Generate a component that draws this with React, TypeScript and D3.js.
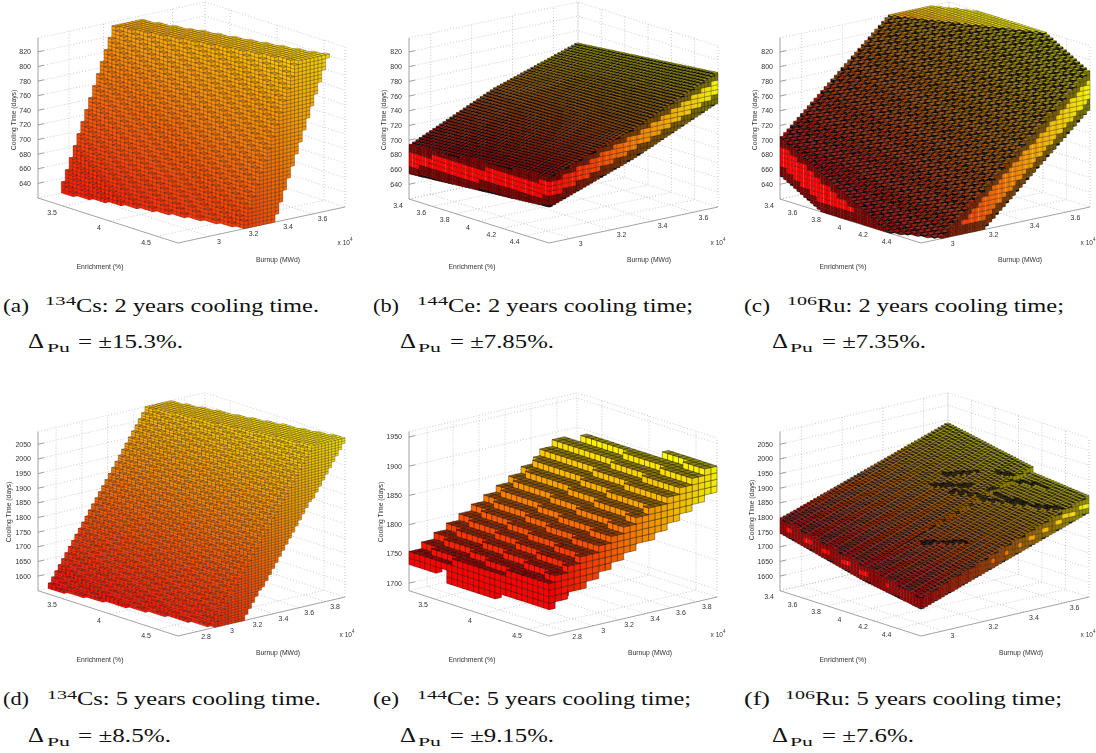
import React, { useEffect, useRef } from 'react';
import * as d3 from 'd3';

const width = 1096;
const height = 753;

// tick labels
const enrichTicksWide = [3.5, 4, 4.5];
const enrichTicksNarrow = [3.4, 3.6, 3.8, 4, 4.2, 4.4];
const burnupTicksA = [3, 3.2, 3.4, 3.6];
const burnupTicksB = [3, 3.2, 3.4, 3.6];
const burnupTicksD = [2.8, 3, 3.2, 3.4, 3.6, 3.8];
const coolTicks2y = [640, 660, 680, 700, 720, 740, 760, 780, 800, 820];
const coolTicks5y = [1600, 1650, 1700, 1750, 1800, 1850, 1900, 1950, 2000, 2050];
const coolTicksCe5y = [1700, 1750, 1800, 1850, 1900, 1950];

// read-off surfaces of each solid: one row per enrichment, one column per burnup knot.
// cooling times in days, extended to the box edge and clipped to the box when drawn.
// the individual voxels are not read one by one, they are filled in between these surfaces
const csTwoEnrich = [3.234, 4.723];
const csTwoBurnup = [[2.82, 3.788], [2.82, 3.788]];
const csTwoTop = [[538, 1195], [360, 1017]];
const csTwoBottom = [[426, 1083], [240, 897]];

const ceTwoEnrich = [3.4, 4.6];
const ceTwoBurnup = [[2.894, 3.308, 3.72], [2.894, 3.308, 3.72]];
const ceTwoTop = [[693, 746, 784], [710, 751, 804]];
const ceTwoBottom = [[653, 705, 744], [668, 710, 762]];

const ruTwoEnrich = [3.4, 4.6];
const ruTwoBurnup = [[2.894, 3.72], [2.894, 3.72]];
const ruTwoTop = [[704, 916], [595, 806]];
const ruTwoBottom = [[650, 861], [540, 752]];

const csFiveEnrich = [3.234, 4.723];
const csFiveBurnup = [[2.66, 3.955], [2.66, 3.955]];
const csFiveTop = [[1507, 2412], [1360, 2265]];
const csFiveBottom = [[1371, 2276], [1205, 2080]];

const ceFiveEnrich = [3.234, 3.606, 3.621, 4.142, 4.157, 4.723];
const ceFiveBurnup = [
  [2.66, 3.877],
  [2.66, 3.89],
  [2.66, 3.89],
  [2.66, 3.93],
  [2.66, 3.93],
  [2.66, 3.955],
];
const ceFiveTop = [
  [1748, 1894],
  [1755, 1896],
  [1755, 1896],
  [1766, 1908],
  [1766, 1908],
  [1777, 1915],
];
const ceFiveBottom = [
  [1730, 1874],
  [1736, 1876],
  [1720, 1860],
  [1722, 1868],
  [1727, 1871],
  [1731, 1869],
];

const ruFiveEnrich = [3.4, 4.12, 4.13, 4.6];
const ruFiveBurnup = [[2.894, 3.72], [2.894, 3.72], [2.894, 3.72], [2.894, 3.72]];
const ruFiveTop = [[1798, 1993], [1727, 1936], [1727, 1917], [1680, 1898]];
const ruFiveBottom = [[1744, 1943], [1672, 1886], [1672, 1867], [1639, 1837]];
// dark creases on the top of (f): enrichment, burnup at each end
const ruFiveCreases = [
  [4.19, 3.13, 4.38, 3.23],
  [3.82, 3.40, 3.99, 3.49],
  [3.80, 3.48, 3.91, 3.56],
  [4.01, 3.61, 4.33, 3.67],
  [3.95, 3.42, 4.58, 3.60],
  [4.10, 3.52, 4.50, 3.56],
];

const panels = [
  {
    L: [38, 198], F: [178, 243], R: [345, 207], zTop: 38,
    eDomain: [3.234, 4.723], bDomain: [2.82, 3.788], zDomain: [620, 839], clip: [620, 836],
    eTicks: enrichTicksWide, bTicks: burnupTicksA, zTicks: coolTicks2y,
    enrich: csTwoEnrich, burnup: csTwoBurnup, top: csTwoTop, bottom: csTwoBottom,
    ne: 35, nb: 43, dz: 5.093, smooth: false, merge: false, topShade: 0.85, edge: [0, 0, 1], dash: 1, tone: [0.6, 0.35], stroke: [0.35, 0.7],
    coolX: 13, coolY: 120, enrichX: 100, enrichY: 266, burnX: 278, burnY: 259, expX: 345, expY: 242,
  },
  {
    L: [409, 199], F: [549, 243], R: [718, 207], zTop: 38,
    eDomain: [3.4, 4.6], bDomain: [2.894, 3.72], zDomain: [620, 839], clip: [620, 839],
    eTicks: enrichTicksNarrow, bTicks: burnupTicksB, zTicks: coolTicks2y,
    enrich: ceTwoEnrich, burnup: ceTwoBurnup, top: ceTwoTop, bottom: ceTwoBottom,
    ne: 42, nb: 50, dz: 6.4, smooth: true, merge: true, topShade: 0.66, edge: [1, 1.5, 0.5], dash: 0.2, tone: [1, 0], stroke: [0.33, 0.85],
    coolX: 383, coolY: 120, enrichX: 472, enrichY: 266, burnX: 649, burnY: 259, expX: 718, expY: 242,
  },
  {
    L: [780, 199], F: [921, 243], R: [1090, 207], zTop: 38,
    eDomain: [3.4, 4.6], bDomain: [2.894, 3.72], zDomain: [620, 839], clip: [620, 839],
    eTicks: enrichTicksNarrow, bTicks: burnupTicksB, zTicks: coolTicks2y,
    enrich: ruTwoEnrich, burnup: ruTwoBurnup, top: ruTwoTop, bottom: ruTwoBottom,
    ne: 42, nb: 50, dz: 6.4, smooth: true, merge: true, topShade: 0.76, edge: [1.4, 1.6, 0.5], dash: 0.2, tone: [1, 0], stroke: [0.3, 0.85],
    coolX: 754, coolY: 120, enrichX: 843, enrichY: 266, burnX: 1020, burnY: 259, expX: 1088, expY: 242,
  },
  {
    L: [38, 590.7], F: [178, 636], R: [345, 597], zTop: 431.7,
    eDomain: [3.234, 4.723], bDomain: [2.66, 3.955], zDomain: [1550, 2093], clip: [1550, 2090],
    eTicks: enrichTicksWide, bTicks: burnupTicksD, zTicks: coolTicks5y,
    enrich: csFiveEnrich, burnup: csFiveBurnup, top: csFiveTop, bottom: csFiveBottom,
    ne: 35, nb: 50, dz: 9.05, smooth: false, merge: false, topShade: 0.85, edge: [0, 0, 1], dash: 1, tone: [0.6, 0.35], stroke: [0.35, 0.7],
    coolX: 8, coolY: 512, enrichX: 100, enrichY: 659, burnX: 278, burnY: 652, expX: 347, expY: 634,
  },
  {
    L: [409, 590.7], F: [549, 636], R: [717, 597], zTop: 431.7,
    eDomain: [3.234, 4.723], bDomain: [2.66, 3.955], zDomain: [1687, 1959], clip: [1687, 1959],
    eTicks: enrichTicksWide, bTicks: burnupTicksD, zTicks: coolTicksCe5y,
    enrich: ceFiveEnrich, burnup: ceFiveBurnup, top: ceFiveTop, bottom: ceFiveBottom,
    ne: 26, nb: 27, dz: 11.2, smooth: false, merge: false, topShade: 0.55, edge: [0, 0, 1], dash: 1, tone: [1, 0], stroke: [0.45, 0.8],
    coolX: 380, coolY: 512, enrichX: 472, enrichY: 659, burnX: 650, burnY: 652, expX: 718, expY: 634,
  },
  {
    L: [780, 590.7], F: [921, 636], R: [1089, 597], zTop: 431.7,
    eDomain: [3.4, 4.6], bDomain: [2.894, 3.72], zDomain: [1550, 2093], clip: [1550, 2093],
    eTicks: enrichTicksNarrow, bTicks: burnupTicksB, zTicks: coolTicks5y,
    enrich: ruFiveEnrich, burnup: ruFiveBurnup, top: ruFiveTop, bottom: ruFiveBottom, creases: ruFiveCreases,
    ne: 48, nb: 50, dz: 16, smooth: true, merge: true, topShade: 0.68, edge: [1, 1, 0.62], dash: 0.3, tone: [1, 0], stroke: [0.3, 0.8],
    coolX: 751, coolY: 510, enrichX: 843, enrichY: 659, burnX: 1021, burnY: 652, expX: 1088, expY: 634,
  },
];

// caption text, then x positions read from the page
const captions = [
  { tag: '(a)', iso: '134', rest: 'Cs: 2 years cooling time.', pct: '= ±15.3%.', x: [3, 45, 76, 319], x2: [28, 47, 78, 183], y: [311.5, 348] },
  { tag: '(b)', iso: '144', rest: 'Ce: 2 years cooling time;', pct: '= ±7.85%.', x: [373, 417, 448, 693], x2: [400, 418, 450, 554], y: [311.5, 348] },
  { tag: '(c)', iso: '106', rest: 'Ru: 2 years cooling time;', pct: '= ±7.35%.', x: [744, 787, 817, 1064], x2: [772, 790, 822, 926], y: [311.5, 348] },
  { tag: '(d)', iso: '134', rest: 'Cs: 5 years cooling time.', pct: '= ±8.5%.', x: [3, 47, 77, 321], x2: [28, 47, 78, 171], y: [705, 741.5] },
  { tag: '(e)', iso: '144', rest: 'Ce: 5 years cooling time;', pct: '= ±9.15%.', x: [373, 417, 447, 691], x2: [400, 418, 450, 554], y: [705, 741.5] },
  { tag: '(f)', iso: '106', rest: 'Ru: 5 years cooling time;', pct: '= ±7.6%.', x: [744, 785, 815, 1062], x2: [772, 790, 822, 914], y: [705, 741.5] },
];

const autumn = (t: number, shade: number) => {
  const u = Math.max(0, Math.min(1, t));
  return d3.rgb(255 * shade, 255 * u * shade, 0).formatHex();
};

function buildFaces(p: any) {
  const { L, F, R, zTop } = p;
  const xE = d3.scaleLinear().domain(p.eDomain).range([0, F[0] - L[0]]);
  const yE = d3.scaleLinear().domain(p.eDomain).range([0, F[1] - L[1]]);
  const xB = d3.scaleLinear().domain(p.bDomain).range([0, R[0] - F[0]]);
  const yB = d3.scaleLinear().domain(p.bDomain).range([0, R[1] - F[1]]);
  const yZ = d3.scaleLinear().domain(p.zDomain).range([0, zTop - L[1]]);
  const at = (e: number, b: number, z: number) => [
    L[0] + xE(e) + xB(b),
    L[1] + yE(e) + yB(b) + yZ(z),
  ];
  const pt = (q: number[]) => q[0].toFixed(1) + ',' + q[1].toFixed(1);
  const quad = (pts: number[][]) => 'M' + pts.map(pt).join('L') + 'Z';
  const seg = (a: number[], b: number[]) => 'M' + pt(a) + 'L' + pt(b);

  const eStep = (p.eDomain[1] - p.eDomain[0]) / p.ne;
  const bStep = (p.bDomain[1] - p.bDomain[0]) / p.nb;
  const snap = (z: number) =>
    p.smooth ? z : p.zDomain[0] + Math.round((z - p.zDomain[0]) / p.dz) * p.dz;
  const rowZ = (r: number) => p.zDomain[0] + r * p.dz;
  const rowOf = (z: number) => (z - p.zDomain[0]) / p.dz;

  // is this cell on one of the creases
  const onCrease = (e: number, b: number) =>
    (p.creases || []).some((s: number[]) => {
      const ex = (s[2] - s[0]) / eStep;
      const bx = (s[3] - s[1]) / bStep;
      const px = (e - s[0]) / eStep;
      const py = (b - s[1]) / bStep;
      const u = Math.max(0, Math.min(1, (px * ex + py * bx) / (ex * ex + bx * bx)));
      return Math.hypot(px - u * ex, py - u * bx) < 0.6;
    });

  // column bounds for every grid cell, from the read-off tables
  const cols: any[][] = [];
  const eNode = d3.scaleLinear().domain(p.enrich).range(p.enrich.map((_: any, i: number) => i)).clamp(true);
  for (let j = 0; j < p.ne; j++) {
    const e = p.eDomain[0] + (j + 0.5) * eStep;
    const k = eNode(e);
    const i0 = Math.min(Math.floor(k), p.enrich.length - 2);
    const f = k - i0;
    const mix = (t: number[][]) => t[i0].map((v, q) => v + (t[i0 + 1][q] - v) * f);
    const knots = mix(p.burnup);
    const topAt = d3.scaleLinear().domain(knots).range(mix(p.top));
    const botAt = d3.scaleLinear().domain(knots).range(mix(p.bottom));
    const col: any[] = [];
    for (let i = 0; i < p.nb; i++) {
      const b = p.bDomain[0] + (i + 0.5) * bStep;
      if (b < knots[0] || b > knots[knots.length - 1]) {
        col.push(null);
        continue;
      }
      const topRaw = topAt(b);
      const hi = snap(Math.min(topRaw, p.clip[1]));
      const lo = snap(Math.max(botAt(b), p.clip[0]));
      const crease = onCrease(e, b);
      col.push(hi > lo ? { lo, hi: crease ? hi + p.dz * 0.3 : hi, flat: topRaw >= p.clip[1], crease } : null);
    }
    cols.push(col);
  }

  const tb = d3.scaleLinear().domain(d3.extent(p.burnup.flat()) as number[]).range([0, 1]);
  const tz = d3.scaleLinear().domain(p.clip).range([0, 1]);
  const tone = (b: number, z: number) => p.tone[0] * tb(b) + p.tone[1] * tz(z);
  const faces: { d: string; fill: string; bare?: boolean; wide?: boolean }[] = [];

  // parts of the slice [z0, z1] that the neighbouring column leaves open
  const open = (z0: number, z1: number, n: any) => {
    if (!n) return [[z0, z1]];
    const parts: number[][] = [];
    if (z0 < n.lo) parts.push([z0, Math.min(z1, n.lo)]);
    if (z1 > n.hi) parts.push([Math.max(z0, n.hi), z1]);
    return parts;
  };

  // a side face; lit faces of the plates are joined in pairs, as in the picture
  const addSide = (a: number[], b: number[], c: number[], d: number[], fill: string, joined: boolean, first: boolean) => {
    if (!joined) {
      faces.push({ d: quad([a, b, c, d]), fill });
      return;
    }
    faces.push({ d: quad([a, b, c, d]), fill, bare: true });
    faces.push({ d: seg(a, b) + seg(d, c) + (first ? seg(a, d) : ''), fill: 'none', wide: true });
  };

  for (let i = p.nb - 1; i >= 0; i--) {
    for (let j = 0; j < p.ne; j++) {
      const c = cols[j][i];
      if (!c) continue;
      const e0 = p.eDomain[0] + j * eStep;
      const e1 = e0 + eStep;
      const b0 = p.bDomain[0] + i * bStep;
      const b1 = b0 + bStep;
      const bMid = b0 + bStep / 2;
      const front = i > 0 ? cols[j][i - 1] : null;
      const side = j < p.ne - 1 ? cols[j + 1][i] : null;
      const rFirst = Math.floor(rowOf(c.lo) + 1e-6);
      const rLast = Math.ceil(rowOf(c.hi) - 1e-6);
      for (let r = rFirst; r < rLast; r++) {
        const z0 = Math.max(rowZ(r), c.lo);
        const z1 = Math.min(rowZ(r + 1), c.hi);
        if (z1 <= z0) continue;
        const nearEdge =
          c.hi - rowZ(r + 1) < p.edge[0] * p.dz - 1e-6 || rowZ(r) - c.lo < p.edge[1] * p.dz - 1e-6;
        const shade = nearEdge ? p.edge[2] : 1;
        const t = tone(bMid, (z0 + z1) / 2);
        const joined = p.merge && !nearEdge;
        open(z0, z1, front).forEach(([a, b]) => {
          const thin = b - a < 0.5 * p.dz && nearEdge ? p.dash : 1;
          addSide(at(e0, b0, a), at(e1, b0, a), at(e1, b0, b), at(e0, b0, b), autumn(t, shade * thin), joined, j % 2 === 0);
        });
        open(z0, z1, side).forEach(([a, b]) => {
          const thin = b - a < 0.5 * p.dz && nearEdge ? p.dash : 1;
          addSide(at(e1, b1, a), at(e1, b0, a), at(e1, b0, b), at(e1, b1, b), autumn(t, shade * 0.94 * thin), joined, i % 2 === 1);
        });
      }
      const zt = c.hi;
      faces.push({
        d: quad([at(e0, b0, zt), at(e1, b0, zt), at(e1, b1, zt), at(e0, b1, zt)]),
        fill: autumn(tone(bMid, zt), c.crease ? 0.08 : c.flat ? 1 : p.topShade),
      });
    }
  }
  return { faces, at };
}

function drawPanel(svg: any, p: any) {
  const { faces, at } = buildFaces(p);
  const [eMin, eMax] = p.eDomain;
  const [bMin, bMax] = p.bDomain;
  const [zMin, zMax] = p.zDomain;
  const line = d3.line();
  const g = svg.append('g');

  const grid = g.append('g').attr('fill', 'none').attr('stroke', '#a6a6a6').attr('stroke-width', 0.6).attr('stroke-dasharray', '1,2');
  const addGrid = (pts: number[][]) => grid.append('path').attr('d', line(pts as any));
  // box edges behind the data
  addGrid([at(eMin, bMin, zMax), at(eMin, bMax, zMax), at(eMax, bMax, zMax)]);
  addGrid([at(eMin, bMin, zMin), at(eMin, bMax, zMin), at(eMax, bMax, zMin)]);
  addGrid([at(eMin, bMax, zMin), at(eMin, bMax, zMax)]);
  addGrid([at(eMax, bMax, zMin), at(eMax, bMax, zMax)]);
  p.zTicks.forEach((z: number) => addGrid([at(eMin, bMin, z), at(eMin, bMax, z), at(eMax, bMax, z)]));
  p.eTicks.forEach((e: number) => addGrid([at(e, bMin, zMin), at(e, bMax, zMin), at(e, bMax, zMax)]));
  p.bTicks.forEach((b: number) => addGrid([at(eMax, b, zMin), at(eMin, b, zMin), at(eMin, b, zMax)]));

  const axes = g.append('g').attr('fill', 'none').attr('stroke', '#8c8c8c').attr('stroke-width', 0.8);
  axes.append('path').attr('d', line([at(eMin, bMin, zMax), at(eMin, bMin, zMin), at(eMax, bMin, zMin), at(eMax, bMax, zMin)] as any));
  p.zTicks.forEach((z: number) => {
    const a = at(eMin, bMin, z);
    axes.append('path').attr('d', line([a, [a[0] + 6, a[1] - 1.3]] as any));
  });

  g.append('g')
    .attr('stroke', '#000')
    .attr('stroke-width', p.stroke[0])
    .attr('stroke-opacity', p.stroke[1])
    .selectAll('path')
    .data(faces)
    .join('path')
    .attr('d', (d: any) => d.d)
    .attr('fill', (d: any) => d.fill)
    .attr('stroke', (d: any) => (d.bare ? 'none' : null))
    .attr('stroke-width', (d: any) => (d.wide ? 0.5 : null))
    .attr('stroke-opacity', (d: any) => (d.wide ? 0.55 : null));

  const text = g.append('g').attr('font-family', '"Liberation Sans", Arial, sans-serif').attr('font-size', 7).attr('fill', '#333');
  p.zTicks.forEach((z: number) => {
    const a = at(eMin, bMin, z);
    text.append('text').attr('x', a[0] - 7).attr('y', a[1] + 2.5).attr('text-anchor', 'end').text(z);
  });
  p.eTicks.forEach((e: number) => {
    const a = at(e, bMin, zMin);
    text.append('text').attr('x', a[0] - 11).attr('y', a[1] + 8.5).attr('text-anchor', 'middle').text(e);
  });
  p.bTicks.forEach((b: number) => {
    const a = at(eMax, b, zMin);
    text.append('text').attr('x', a[0] + 10).attr('y', a[1] + 7.5).attr('text-anchor', 'middle').text(b);
  });
  text.append('text')
    .attr('transform', `translate(${p.coolX},${p.coolY}) rotate(-90)`)
    .attr('text-anchor', 'middle')
    .attr('dy', 2.5)
    .attr('font-size', 6.8)
    .text('Cooling Time (days)');
  text.append('text').attr('x', p.enrichX).attr('y', p.enrichY + 2.5).attr('text-anchor', 'middle').attr('font-size', 6.8).text('Enrichment (%)');
  text.append('text').attr('x', p.burnX).attr('y', p.burnY + 2.5).attr('text-anchor', 'middle').attr('font-size', 6.8).text('Burnup (MWd)');
  const exp = text.append('text').attr('x', p.expX).attr('y', p.expY + 2.5).attr('text-anchor', 'middle').attr('font-size', 6.5);
  exp.append('tspan').text('x 10');
  exp.append('tspan').attr('dy', -4).attr('font-size', 4.5).text('4');
}

function Caption({ c }: { c: any }) {
  const span = (x0: number, x1: number) => ({ x: x0, textLength: x1 - x0, lengthAdjust: 'spacingAndGlyphs' as const });
  return (
    <g fontFamily='"Liberation Serif", "DejaVu Serif", serif' fill="#111">
      <text {...span(c.x[0], c.x[0] + 26)} y={c.y[0]} fontSize={18}>{c.tag}</text>
      <text {...span(c.x[1], c.x[2])} y={c.y[0] - 6.5} fontSize={12.5}>{c.iso}</text>
      <text {...span(c.x[2], c.x[3])} y={c.y[0]} fontSize={18}>{c.rest}</text>
      <text {...span(c.x2[0], c.x2[0] + 16)} y={c.y[1]} fontSize={20}>Δ</text>
      <text {...span(c.x2[1], c.x2[1] + 23)} y={c.y[1] + 4} fontSize={13}>Pu</text>
      <text {...span(c.x2[2], c.x2[3])} y={c.y[1]} fontSize={18}>{c.pct}</text>
    </g>
  );
}

export default function App() {
  const plots = useRef<SVGGElement | null>(null);

  useEffect(() => {
    const svg = d3.select(plots.current);
    svg.selectAll('*').remove();
    panels.forEach((p) => drawPanel(svg, p));
  }, []);

  return (
    <svg
      width={width}
      height={height}
      style={{ position: 'absolute', left: 0, top: 0, display: 'block', background: '#fff' }}
    >
      <defs>
        <filter id="soft" filterUnits="userSpaceOnUse" x={0} y={0} width={width} height={height}>
          <feGaussianBlur stdDeviation={0.35} />
        </filter>
      </defs>
      <g ref={plots} filter="url(#soft)" />
      {captions.map((c) => (
        <Caption key={c.tag} c={c} />
      ))}
    </svg>
  );
}
